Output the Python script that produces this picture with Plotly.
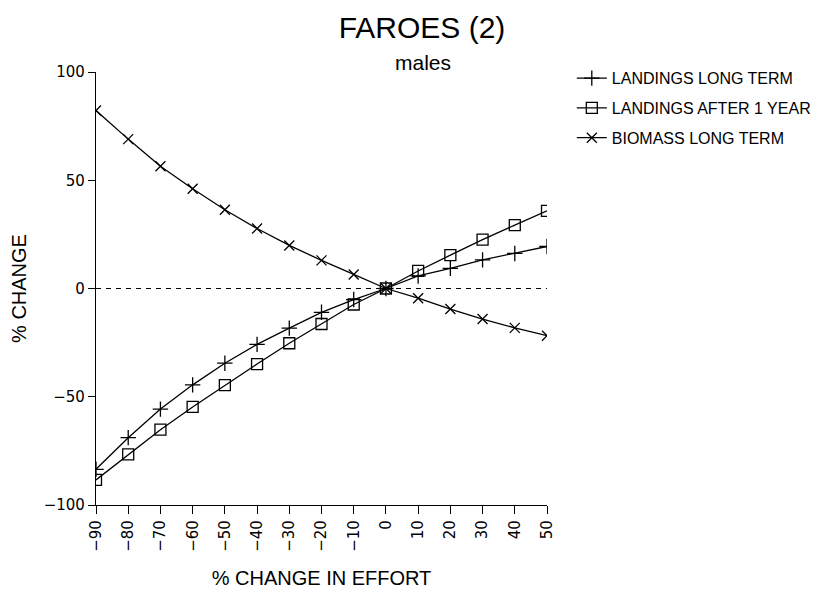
import plotly.graph_objects as go

effort = [-90, -80, -70, -60, -50, -40, -30, -20, -10, 0, 10, 20, 30, 40, 50]
landings_long_term = [-83.5, -68.9, -55.7, -44.5, -34.5, -25.8, -18.3, -11.0, -5.1, 0.0, 5.8, 9.3, 13.2, 16.2, 19.4]
landings_after_1_year = [-88.4, -76.6, -65.2, -54.7, -44.6, -34.9, -25.3, -16.4, -7.4, 0.0, 8.1, 15.4, 22.6, 29.3, 35.9]
biomass_long_term = [82.2, 69.0, 56.5, 46.1, 36.4, 27.7, 19.9, 13.0, 6.5, 0.0, -4.5, -9.5, -14.1, -18.2, -21.8]
zero_x = [-90, 50]
zero_y = [0, 0]
x_ticks = [-90, -80, -70, -60, -50, -40, -30, -20, -10, 0, 10, 20, 30, 40, 50]
y_ticks = [-100, -50, 0, 50, 100]

FONT = "Liberation Sans"
TICKFONT = "DejaVu Sans"
fig = go.Figure()

fig.add_trace(go.Scatter(x=zero_x, y=zero_y, mode="lines", showlegend=False,
                         line=dict(color="black", width=1.2, dash="5px,5px"), hoverinfo="skip"))

series = [
    ("LANDINGS LONG TERM", landings_long_term, "cross-thin-open", 11),
    ("LANDINGS AFTER 1 YEAR", landings_after_1_year, "square-open", 11),
    ("BIOMASS LONG TERM", biomass_long_term, "x-thin-open", 10),
]
for i, (name, vals, sym, sz) in enumerate(series):
    fig.add_trace(go.Scatter(
        x=effort, y=vals, mode="lines+markers", name=name, legendgroup=f"g{i}",
        line=dict(color="black", width=1.3),
        marker=dict(symbol=sym, size=sz, color="black", line=dict(color="black", width=1.3)),
    ))

fig.update_layout(
    width=818, height=598,
    margin=dict(l=88, r=279, t=64, b=101, autoexpand=False),
    paper_bgcolor="white", plot_bgcolor="white",
    font=dict(family=FONT, color="black", size=16),
    title=dict(text="FAROES (2)", x=414 / 818, xanchor="center", y=1 - 19 / 598, yanchor="middle",
               xref="container", yref="container", font=dict(family=FONT, size=30, color="black")),
    showlegend=True,
    legend=dict(x=1.055, y=1.025, xanchor="left", yanchor="top", bgcolor="rgba(0,0,0,0)",
                font=dict(family=FONT, size=16, color="black"), tracegroupgap=6),
    annotations=[dict(text="males", xref="paper", yref="paper", x=0.725, y=1.021,
                      xanchor="center", yanchor="middle", showarrow=False,
                      font=dict(family=FONT, size=21, color="black"))],
)
fig.update_xaxes(range=[-90, 50], tickvals=x_ticks, ticktext=[("\u2212" + str(-v)) if v < 0 else str(v) for v in x_ticks],
                 tickangle=-90, ticks="outside", ticklen=8, tickwidth=1.2, tickcolor="black",
                 showline=True, linecolor="black", linewidth=1.3, showgrid=False, zeroline=False,
                 automargin=False, tickfont=dict(family=TICKFONT, size=15),
                 title=dict(text="% CHANGE IN EFFORT", standoff=20, font=dict(family=FONT, size=20)))
fig.update_yaxes(range=[-100, 100], tickvals=y_ticks, ticks="outside", ticklen=7, tickwidth=1.2,
                 tickcolor="black", showline=True, linecolor="black", linewidth=1.3, showgrid=False,
                 zeroline=False, automargin=False, tickfont=dict(family=TICKFONT, size=15),
                 title=dict(text="% CHANGE", standoff=12, font=dict(family=FONT, size=20)))

fig.write_html("out.html")
